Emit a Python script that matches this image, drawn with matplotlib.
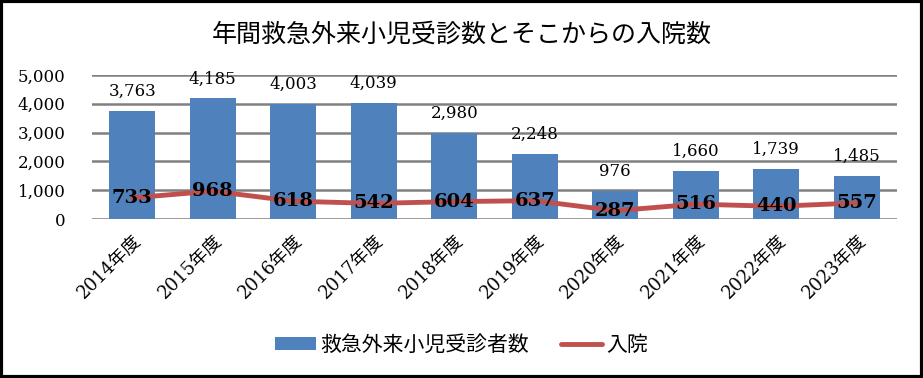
import matplotlib
matplotlib.use("Agg")
import matplotlib.pyplot as plt
from matplotlib.patches import Rectangle
from matplotlib.lines import Line2D
from matplotlib.patches import Patch

categories = ["2014年度", "2015年度", "2016年度", "2017年度", "2018年度",
              "2019年度", "2020年度", "2021年度", "2022年度", "2023年度"]
visits = [3763, 4185, 4003, 4039, 2980, 2248, 976, 1660, 1739, 1485]
admissions = [733, 968, 618, 542, 604, 637, 287, 516, 440, 557]
yticks = [0, 1000, 2000, 3000, 4000, 5000]

FAM = ["DejaVu Serif", "Noto Sans CJK JP"]
plt.rcParams["font.family"] = FAM

W, H = 923, 378
fig = plt.figure(figsize=(W / 100, H / 100), dpi=100)
ax = fig.add_axes([92 / W, 1 - 219 / H, (897 - 92) / W, (219 - 75) / H])

x = list(range(len(categories)))
bar_color = "#4F81BD"
line_color = "#C0504D"

ax.bar(x, visits, width=0.57, color=bar_color, zorder=2)
ax.plot(x, admissions, color=line_color, linewidth=3.5, solid_capstyle="round", zorder=3)

for xi, v in zip(x, visits):
    ax.annotate(f"{v:,}", (xi, v), xytext=(0, 8), textcoords="offset points",
                ha="center", va="bottom", fontsize=12, color="#000000", zorder=4)
for xi, v in zip(x, admissions):
    ax.annotate(f"{v:,}", (xi, v), xytext=(0, 0), textcoords="offset points",
                ha="center", va="center", fontsize=14, fontweight="bold",
                color="#000000", zorder=5)

ax.set_xlim(-0.5, len(categories) - 0.5)
ax.set_ylim(0, 5000)
ax.set_yticks(yticks)
ax.set_yticklabels([f"{t:,}" for t in yticks], fontsize=12)
ax.yaxis.grid(True, color="#808080", linewidth=1.8, zorder=0)
ax.set_axisbelow(True)
for s in ax.spines.values():
    s.set_visible(False)
ax.tick_params(axis="both", length=0)
ax.tick_params(axis="y", pad=19)
ax.set_xticks(x)
ax.set_xticklabels(categories, rotation=45, ha="right", rotation_mode="anchor",
                   fontsize=13)
ax.tick_params(axis="x", pad=9)

fig.text(0.5, 1 - 35 / H, "年間救急外来小児受診数とそこからの入院数",
         ha="center", va="center", fontsize=18, family=FAM)

handles = [Patch(facecolor=bar_color, edgecolor="none"),
           Line2D([0], [0], color=line_color, linewidth=3.5, solid_capstyle="round")]
fig.legend(handles, ["救急外来小児受診者数", "入院"], loc="center",
           bbox_to_anchor=(0.5, 1 - 345 / H), ncol=2, frameon=False,
           fontsize=15, handlelength=2.0, handleheight=0.6, columnspacing=1.5,
           handletextpad=0.2)

fig.patches.append(Rectangle((0.0015, 0.003), 0.997, 0.994, transform=fig.transFigure,
                             fill=False, edgecolor="black", linewidth=3))

fig.savefig("out.png", dpi=100)
